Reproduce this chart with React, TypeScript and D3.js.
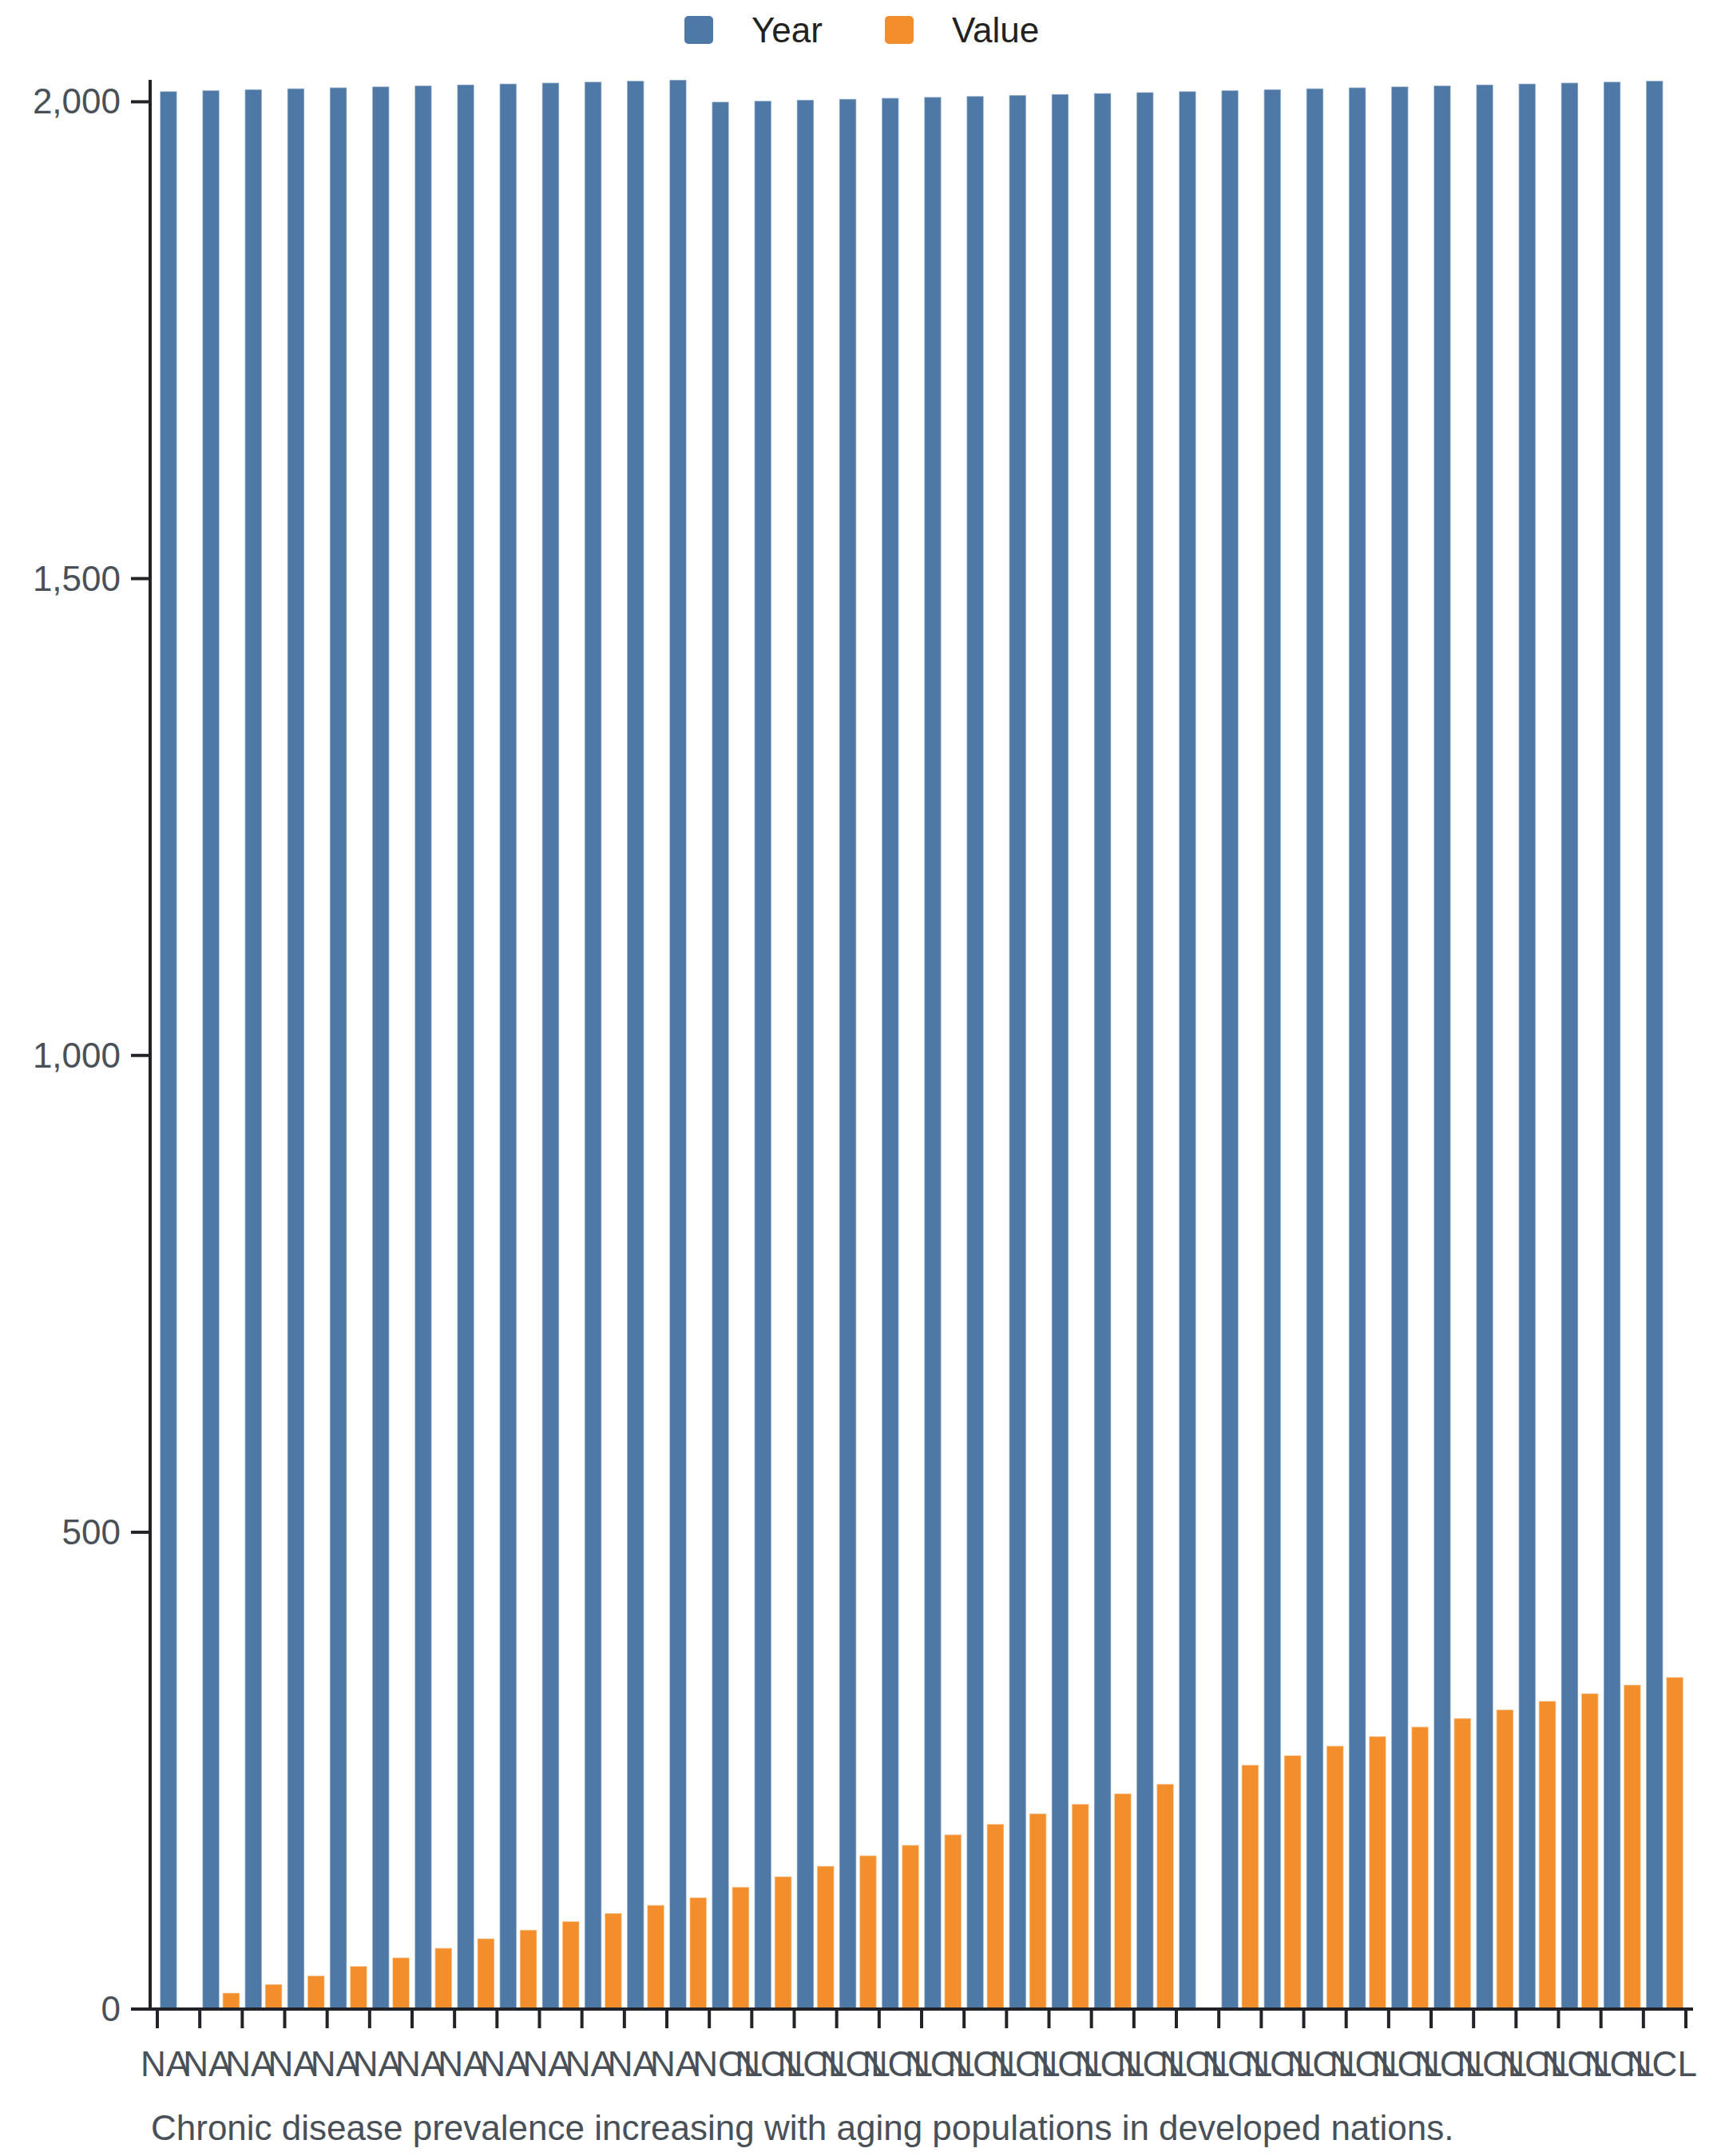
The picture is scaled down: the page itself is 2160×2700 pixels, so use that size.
import React from "react";
import * as d3 from "d3";

const categories: string[] = [
  "NA", "NA", "NA", "NA", "NA", "NA", "NA", "NA", "NA", "NA", "NA", "NA", "NA",
  "NCL", "NCL", "NCL", "NCL", "NCL", "NCL", "NCL", "NCL", "NCL", "NCL", "NCL", "NCL",
  "NCL", "NCL", "NCL", "NCL", "NCL", "NCL", "NCL", "NCL", "NCL", "NCL", "NCL",
];

const yearValues: number[] = [
  2011, 2012, 2013, 2014, 2015, 2016, 2017, 2018, 2019, 2020, 2021, 2022, 2023,
  2000, 2001, 2002, 2003, 2004, 2005, 2006, 2007, 2008, 2009, 2010, 2011,
  2012, 2013, 2014, 2015, 2016, 2017, 2018, 2019, 2020, 2021, 2022,
];

const valueValues: (number | null)[] = [
  null, 17, 26, 35, 45, 54, 64, 74, 83, 92, 100.5, 109, 117,
  128, 139, 150, 161, 172, 183, 194, 205, 215, 226, 236, null,
  256, 266, 276, 286, 296, 305, 314, 323, 331, 340, 348,
];

const seriesKeys: string[] = ["Year", "Value"];
const seriesColors: string[] = ["#4e79a7", "#f28e2c"];
const yTicks: number[] = [0, 500, 1000, 1500, 2000];
const caption = "Chronic disease prevalence increasing with aging populations in developed nations.";

const W = 2160;
const H = 2700;
const FONT = "'Liberation Sans', Arial, Helvetica, sans-serif";
const AXIS = "#212328";
const TXT = "#4a5058";

export default function App() {
  const left = 188;
  const firstTick = 197;
  const lastTick = 2111;
  const top = 100;
  const bottom = 2516;

  const idx = categories.map((_, i) => i);
  const x = d3.scaleBand<number>().domain(idx).range([firstTick, lastTick]).paddingInner(0).paddingOuter(0);
  const x1 = d3
    .scaleBand<string>()
    .domain(seriesKeys)
    .range([0, x.bandwidth()])
    .paddingInner(0.16)
    .paddingOuter(0.13);
  const maxY = d3.max(yearValues) as number;
  const y = d3.scaleLinear().domain([0, maxY]).range([bottom, top]);
  const fmt = d3.format(",");

  const tickXs = [...idx.map((i) => x(i) as number), lastTick];
  const series: (number | null)[][] = [yearValues, valueValues];

  const sq = 36;
  const legendItems = [
    { key: seriesKeys[0], x: 857, textX: 941 },
    { key: seriesKeys[1], x: 1108, textX: 1192 },
  ];

  return (
    <svg
      width={W}
      height={H}
      viewBox={`0 0 ${W} ${H}`}
      style={{ position: "absolute", left: 0, top: 0, background: "#fff" }}
      fontFamily={FONT}
    >
      <rect x={0} y={0} width={W} height={H} fill="#fff" />
      {/* legend */}
      {legendItems.map((it, i) => (
        <g key={it.key}>
          <rect x={it.x} y={20} width={sq} height={35} rx={5} fill={seriesColors[i]} />
          <text x={it.textX} y={53} fontSize={44} fill="#222">
            {it.key}
          </text>
        </g>
      ))}

      {/* bars */}
      {idx.map((i) => (
        <g key={i} transform={`translate(${x(i)},0)`}>
          {seriesKeys.map((k, s) => {
            const v = series[s][i];
            if (v == null) return null;
            return (
              <rect
                key={k}
                x={x1(k) as number}
                y={y(v)}
                width={x1.bandwidth()}
                height={bottom - y(v)}
                fill={seriesColors[s]}
                stroke="#fff"
                strokeOpacity={0.45}
                strokeWidth={1.5}
              />
            );
          })}
        </g>
      ))}

      {/* y axis */}
      <line x1={left} x2={left} y1={top} y2={bottom + 2} stroke={AXIS} strokeWidth={4} />
      {yTicks.map((t) => (
        <g key={t} transform={`translate(0,${y(t)})`}>
          <line x1={164} x2={left} y1={0} y2={0} stroke={AXIS} strokeWidth={4} />
          <text x={151} y={0} dy="0.34em" textAnchor="end" fontSize={44} fill={TXT}>
            {fmt(t)}
          </text>
        </g>
      ))}

      {/* x axis */}
      <line x1={left} x2={2120} y1={bottom} y2={bottom} stroke={AXIS} strokeWidth={4} />
      {tickXs.map((tx, i) => (
        <line key={i} x1={tx} x2={tx} y1={bottom} y2={bottom + 24} stroke={AXIS} strokeWidth={4} />
      ))}
      {idx.map((i) => (
        <text
          key={i}
          x={(x(i) as number) - 21}
          y={2600}
          textAnchor="start"
          fontSize={44}
          fill={TXT}
        >
          {categories[i]}
        </text>
      ))}

      {/* caption */}
      <text x={189} y={2680} fontSize={44} fill={TXT}>
        {caption}
      </text>
    </svg>
  );
}
